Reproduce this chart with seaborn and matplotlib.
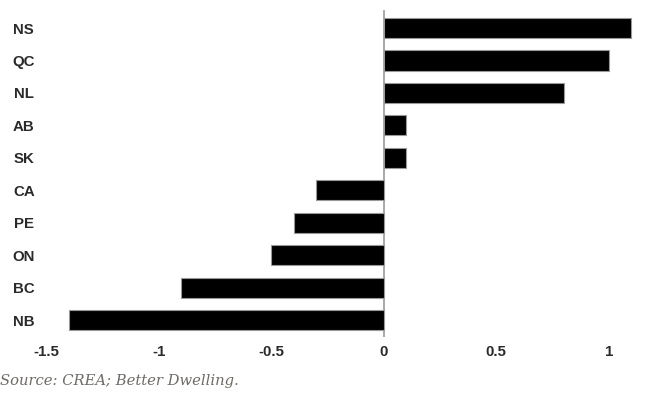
import matplotlib
matplotlib.use("Agg")
import matplotlib.pyplot as plt
import seaborn as sns
import pandas as pd

provinces = ["NS", "QC", "NL", "AB", "SK", "CA", "PE", "ON", "BC", "NB"]
changes = [1.1, 1.0, 0.8, 0.1, 0.1, -0.3, -0.4, -0.5, -0.9, -1.4]
xticks = [-1.5, -1, -0.5, 0, 0.5, 1]
xtick_labels = ["-1.5", "-1", "-0.5", "0", "0.5", "1"]

df = pd.DataFrame({"province": provinces, "change": changes})

sns.set_style("white")
plt.rcParams["font.family"] = ["Liberation Sans", "DejaVu Sans"]

fig = plt.figure(figsize=(6.6, 3.96), dpi=100)
ax = fig.add_axes([0.0697, 0.149, 0.921, 0.826])

sns.barplot(data=df, x="change", y="province", orient="h", color="black",
            saturation=1, width=0.62, edgecolor="#999999", linewidth=0.8, ax=ax)

ax.set_xlim(-1.5, 1.2)
ax.set_ylim(9.52, -0.56)
ax.axvline(0, color="#999999", lw=1.2, zorder=0)

for s in ax.spines.values():
    s.set_visible(False)

ax.set_xticks(xticks)
ax.set_xticklabels(xtick_labels)
ax.tick_params(axis="both", length=0, labelsize=10.8, labelcolor="#2a2a2a")
ax.tick_params(axis="x", pad=6)
ax.tick_params(axis="y", pad=16)
for lab in ax.get_xticklabels():
    lab.set_fontweight("bold")
for lab in ax.get_yticklabels():
    lab.set_fontweight("bold")
    lab.set_horizontalalignment("center")
ax.set_xlabel("")
ax.set_ylabel("")

fig.text(0.0, 1 - 381 / 396, "Source: CREA; Better Dwelling.",
         family="DejaVu Serif", style="italic", fontsize=10.6, color="#6e6a66",
         va="center", ha="left")

fig.savefig("out.png", dpi=100)
